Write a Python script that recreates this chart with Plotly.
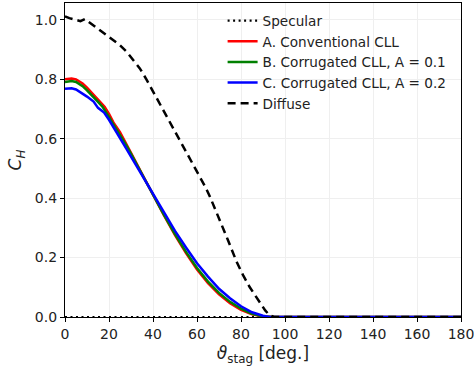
import plotly.graph_objects as go

# Stagnation angle [deg.] and heat-transfer coefficient C_H for each wall model
theta_cll = [0, 3, 5, 8, 10, 13, 15, 17, 18, 20, 22, 25, 28, 30, 35, 40, 45, 50, 55, 60,
             65, 70, 75, 80, 85, 90, 93, 95, 100, 120, 140, 160, 180]
ch_conventional = [0.800, 0.803, 0.800, 0.786, 0.772, 0.748, 0.733, 0.718, 0.708, 0.684,
                   0.655, 0.622, 0.582, 0.553, 0.482, 0.410, 0.342, 0.276, 0.215, 0.160,
                   0.114, 0.076, 0.046, 0.024, 0.009, 0.002, 0.0, 0.0, 0.0, 0.0, 0.0, 0.0, 0.0]
ch_corr_01 = [0.791, 0.794, 0.791, 0.777, 0.763, 0.741, 0.724, 0.708, 0.698, 0.674,
              0.648, 0.614, 0.576, 0.549, 0.480, 0.410, 0.344, 0.279, 0.219, 0.165,
              0.119, 0.081, 0.051, 0.028, 0.011, 0.002, 0.0, 0.0, 0.0, 0.0, 0.0, 0.0, 0.0]
ch_corr_02 = [0.768, 0.770, 0.766, 0.752, 0.742, 0.725, 0.704, 0.693, 0.686, 0.664,
              0.638, 0.602, 0.565, 0.540, 0.478, 0.412, 0.350, 0.290, 0.234, 0.181,
              0.136, 0.095, 0.063, 0.036, 0.016, 0.004, 0.0, 0.0, 0.0, 0.0, 0.0, 0.0, 0.0]

theta_diffuse = [0, 2, 5, 7, 9, 11, 14, 17, 19, 22, 25, 28, 31, 34, 37, 40, 43, 46, 49,
                 52, 55, 58, 61, 64, 66, 70, 74, 78, 81, 84, 88, 91, 93, 95, 100, 120,
                 140, 160, 180]
ch_diffuse = [1.012, 1.006, 1.000, 0.996, 1.003, 0.992, 0.978, 0.960, 0.949, 0.932, 0.915,
              0.893, 0.865, 0.837, 0.800, 0.760, 0.720, 0.680, 0.638, 0.598, 0.560, 0.520,
              0.478, 0.435, 0.403, 0.333, 0.260, 0.186, 0.140, 0.100, 0.057, 0.022, 0.006,
              0.0, 0.0, 0.0, 0.0, 0.0, 0.0]

theta_specular = [0, 180]
ch_specular = [0.0, 0.0]

x_ticks = [0, 20, 40, 60, 80, 100, 120, 140, 160, 180]
y_ticks = [0.0, 0.2, 0.4, 0.6, 0.8, 1.0]

fig = go.Figure()
fig.add_trace(go.Scatter(x=theta_specular, y=ch_specular, mode="lines", name="Specular",
                         line=dict(color="black", width=2.2, dash="2px,3.5px")))
fig.add_trace(go.Scatter(x=theta_cll, y=ch_conventional, mode="lines",
                         name="A. Conventional CLL", line=dict(color="#ff0000", width=2.5)))
fig.add_trace(go.Scatter(x=theta_cll, y=ch_corr_01, mode="lines",
                         name="B. Corrugated CLL, A = 0.1", line=dict(color="#008000", width=2.5)))
fig.add_trace(go.Scatter(x=theta_cll, y=ch_corr_02, mode="lines",
                         name="C. Corrugated CLL, A = 0.2", line=dict(color="#0000ff", width=2.5)))
fig.add_trace(go.Scatter(x=theta_diffuse, y=ch_diffuse, mode="lines", name="Diffuse",
                         line=dict(color="black", width=2.5, dash="8px,5px")))

axis_common = dict(
    showline=True, linecolor="black", linewidth=1.2, mirror=True,
    ticks="outside", ticklen=4, tickwidth=1, tickcolor="black",
    showgrid=True, gridcolor="#efefef", gridwidth=1, zeroline=False,
    ticklabeloverflow="allow", automargin=False,
    tickfont=dict(family="DejaVu Sans", size=14, color="#222"),
)

fig.update_layout(
    width=474, height=370,
    margin=dict(l=65, r=13, t=3, b=53),
    paper_bgcolor="white", plot_bgcolor="white",
    font=dict(family="DejaVu Sans", color="#222"),
    showlegend=True,
    legend=dict(x=0.398, y=0.993, xanchor="left", yanchor="top",
                bgcolor="rgba(255,255,255,0)", borderwidth=0,
                font=dict(family="DejaVu Sans", size=13.6, color="#222"),
                tracegroupgap=0, itemwidth=30),
    xaxis=dict(range=[0, 180], tickvals=x_ticks,
               ticktext=[str(v) for v in x_ticks],
               title=dict(text="<i>ϑ</i><sub>stag</sub> [deg.]", standoff=6,
                          font=dict(family="DejaVu Sans", size=17, color="#222")),
               **axis_common),
    yaxis=dict(range=[0, 1.057], tickvals=y_ticks,
               ticktext=[f"{v:.1f}" for v in y_ticks],
               title=dict(text="<i>C</i><sub><i>H</i></sub>", standoff=8,
                          font=dict(family="DejaVu Sans", size=17, color="#222")),
               **axis_common),
)

fig.write_html("out.html")
